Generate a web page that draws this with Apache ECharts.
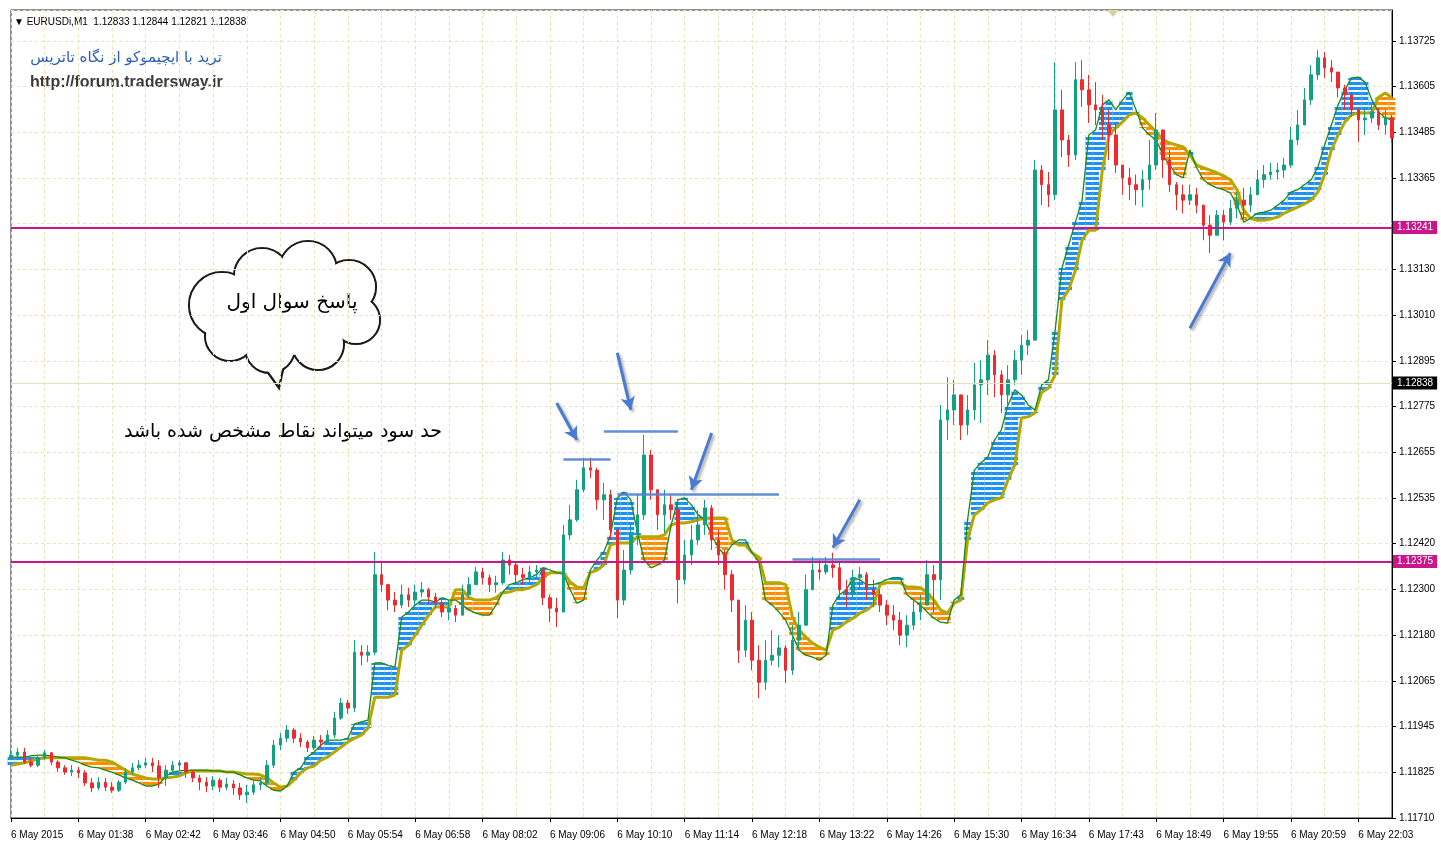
<!DOCTYPE html>
<html>
<head>
<meta charset="utf-8">
<title>EURUSDi,M1</title>
<script src="https://cdn.jsdelivr.net/npm/echarts@6/dist/echarts.min.js"></script>
<style>
html, body { margin: 0; padding: 0; background: #fff; }
#chart { width: 1441px; height: 846px; }
</style>
</head>
<body>
<div id="chart"></div>
<script>
// axis tick labels
const xTickLabels = ['6 May 2015', '6 May 01:38', '6 May 02:42', '6 May 03:46', '6 May 04:50', '6 May 05:54',
  '6 May 06:58', '6 May 08:02', '6 May 09:06', '6 May 10:10', '6 May 11:14', '6 May 12:18', '6 May 13:22',
  '6 May 14:26', '6 May 15:30', '6 May 16:34', '6 May 17:43', '6 May 18:49', '6 May 19:55', '6 May 20:59', '6 May 22:03'];
const yTickLabels = ['1.11710', '1.11825', '1.11945', '1.12065', '1.12180', '1.12300', '1.12420', '1.12535', '1.12655',
  '1.12775', '1.12895', '1.13010', '1.13130', '1.13250', '1.13365', '1.13485', '1.13605', '1.13725'];
const yMax = 1.13805;

// candles (open of each bar = close of the previous one)
const firstOpen = 1.11868;
const closes = [
  1.11873, 1.11881, 1.11855, 1.11847, 1.11866, 1.11879, 1.11855, 1.11840, 1.11829, 1.11834,
  1.11827, 1.11801, 1.11788, 1.11803, 1.11790, 1.11782, 1.11803, 1.11829, 1.11840, 1.11847,
  1.11853, 1.11845, 1.11814, 1.11834, 1.11847, 1.11853, 1.11829, 1.11814, 1.11803, 1.11793,
  1.11808, 1.11790, 1.11798, 1.11788, 1.11770, 1.11777, 1.11796, 1.11801, 1.11847, 1.11899,
  1.11917, 1.11938, 1.11917, 1.11907, 1.11892, 1.11912, 1.11907, 1.11925, 1.11969, 1.12008,
  1.11995, 1.12140, 1.12132, 1.12140, 1.12341, 1.12315, 1.12275, 1.12262, 1.12289, 1.12275,
  1.12296, 1.12302, 1.12283, 1.12267, 1.12244, 1.12254, 1.12236, 1.12289, 1.12315, 1.12348,
  1.12333, 1.12315, 1.12320, 1.12379, 1.12366, 1.12341, 1.12333, 1.12348, 1.12353, 1.12281,
  1.12254, 1.12244, 1.12444, 1.12483, 1.12561, 1.12618, 1.12612, 1.12535, 1.12548, 1.12457,
  1.12275, 1.12353, 1.12444, 1.12496, 1.12651, 1.12561, 1.12496, 1.12522, 1.12509, 1.12328,
  1.12392, 1.12431, 1.12470, 1.12514, 1.12431, 1.12392, 1.12341, 1.12275, 1.12145, 1.12223,
  1.12119, 1.12062, 1.12119, 1.12132, 1.12151, 1.12093, 1.12171, 1.12210, 1.12302, 1.12353,
  1.12348, 1.12366, 1.12359, 1.12302, 1.12289, 1.12333, 1.12341, 1.12302, 1.12289, 1.12262,
  1.12236, 1.12223, 1.12184, 1.12210, 1.12244, 1.12262, 1.12341, 1.12328, 1.12742, 1.12768,
  1.12807, 1.12729, 1.12768, 1.12833, 1.12846, 1.12910, 1.12859, 1.12807, 1.12846, 1.12897,
  1.12936, 1.12949, 1.13390, 1.13352, 1.13326, 1.13546, 1.13468, 1.13429, 1.13624, 1.13598,
  1.13559, 1.13546, 1.13507, 1.13481, 1.13403, 1.13370, 1.13352, 1.13339, 1.13365, 1.13403,
  1.13494, 1.13416, 1.13352, 1.13326, 1.13312, 1.13326, 1.13299, 1.13247, 1.13221, 1.13273,
  1.13255, 1.13291, 1.13312, 1.13299, 1.13326, 1.13365, 1.13378, 1.13385, 1.13390, 1.13403,
  1.13468, 1.13507, 1.13572, 1.13637, 1.13681, 1.13655, 1.13644, 1.13603, 1.13585, 1.13546,
  1.13520, 1.13525, 1.13541, 1.13507, 1.13525, 1.13473];
const highs = [
  1.11886, 1.11892, 1.11892, 1.11866, 1.11873, 1.11886, 1.11881, 1.11860, 1.11847, 1.11847,
  1.11842, 1.11834, 1.11814, 1.11816, 1.11814, 1.11803, 1.11808, 1.11840, 1.11853, 1.11860,
  1.11866, 1.11866, 1.11860, 1.11847, 1.11858, 1.11860, 1.11855, 1.11834, 1.11822, 1.11816,
  1.11819, 1.11814, 1.11814, 1.11808, 1.11801, 1.11796, 1.11808, 1.11814, 1.11860, 1.11912,
  1.11930, 1.11951, 1.11943, 1.11930, 1.11912, 1.11923, 1.11925, 1.11938, 1.11985, 1.12021,
  1.12016, 1.12171, 1.12158, 1.12158, 1.12400, 1.12372, 1.12307, 1.12296, 1.12315, 1.12307,
  1.12315, 1.12322, 1.12307, 1.12294, 1.12275, 1.12275, 1.12262, 1.12315, 1.12335, 1.12361,
  1.12359, 1.12341, 1.12338, 1.12400, 1.12392, 1.12372, 1.12359, 1.12364, 1.12366, 1.12353,
  1.12289, 1.12281, 1.12470, 1.12522, 1.12587, 1.12644, 1.12644, 1.12618, 1.12579, 1.12561,
  1.12462, 1.12405, 1.12470, 1.12548, 1.12703, 1.12664, 1.12561, 1.12561, 1.12548, 1.12535,
  1.12431, 1.12470, 1.12509, 1.12535, 1.12522, 1.12457, 1.12405, 1.12353, 1.12275, 1.12262,
  1.12244, 1.12158, 1.12171, 1.12197, 1.12184, 1.12158, 1.12210, 1.12244, 1.12341, 1.12387,
  1.12379, 1.12387, 1.12398, 1.12374, 1.12328, 1.12353, 1.12361, 1.12348, 1.12328, 1.12302,
  1.12275, 1.12262, 1.12244, 1.12236, 1.12275, 1.12289, 1.12379, 1.12366, 1.12781, 1.12853,
  1.12846, 1.12794, 1.12807, 1.12890, 1.12897, 1.12949, 1.12923, 1.12871, 1.12884, 1.12923,
  1.12962, 1.12975, 1.13416, 1.13403, 1.13385, 1.13670, 1.13598, 1.13481, 1.13670, 1.13675,
  1.13637, 1.13618, 1.13585, 1.13546, 1.13507, 1.13403, 1.13396, 1.13378, 1.13390, 1.13468,
  1.13538, 1.13494, 1.13442, 1.13359, 1.13352, 1.13352, 1.13344, 1.13299, 1.13273, 1.13286,
  1.13286, 1.13312, 1.13333, 1.13344, 1.13346, 1.13390, 1.13403, 1.13409, 1.13409, 1.13422,
  1.13502, 1.13546, 1.13603, 1.13662, 1.13701, 1.13696, 1.13675, 1.13644, 1.13611, 1.13592,
  1.13551, 1.13551, 1.13559, 1.13551, 1.13546, 1.13533];
const lows = [
  1.11860, 1.11868, 1.11850, 1.11842, 1.11842, 1.11860, 1.11847, 1.11829, 1.11822, 1.11819,
  1.11814, 1.11793, 1.11777, 1.11782, 1.11780, 1.11775, 1.11777, 1.11798, 1.11822, 1.11834,
  1.11840, 1.11829, 1.11788, 1.11793, 1.11822, 1.11834, 1.11814, 1.11803, 1.11782, 1.11777,
  1.11782, 1.11777, 1.11782, 1.11770, 1.11757, 1.11749, 1.11770, 1.11782, 1.11790, 1.11840,
  1.11886, 1.11907, 1.11904, 1.11894, 1.11881, 1.11886, 1.11892, 1.11902, 1.11917, 1.11964,
  1.11980, 1.11985, 1.12106, 1.12114, 1.12132, 1.12296, 1.12249, 1.12244, 1.12254, 1.12257,
  1.12262, 1.12283, 1.12267, 1.12254, 1.12231, 1.12223, 1.12218, 1.12236, 1.12281, 1.12315,
  1.12315, 1.12296, 1.12294, 1.12315, 1.12341, 1.12322, 1.12315, 1.12322, 1.12333, 1.12262,
  1.12218, 1.12205, 1.12379, 1.12431, 1.12478, 1.12555, 1.12592, 1.12509, 1.12483, 1.12431,
  1.12228, 1.12262, 1.12341, 1.12418, 1.12483, 1.12535, 1.12457, 1.12449, 1.12483, 1.12267,
  1.12315, 1.12366, 1.12418, 1.12444, 1.12405, 1.12366, 1.12302, 1.12244, 1.12112, 1.12127,
  1.12093, 1.12021, 1.12042, 1.12106, 1.12101, 1.12060, 1.12081, 1.12145, 1.12223, 1.12302,
  1.12328, 1.12341, 1.12333, 1.12275, 1.12257, 1.12281, 1.12302, 1.12275, 1.12257, 1.12244,
  1.12210, 1.12197, 1.12158, 1.12153, 1.12197, 1.12223, 1.12262, 1.12244, 1.12275, 1.12690,
  1.12729, 1.12690, 1.12703, 1.12742, 1.12734, 1.12807, 1.12801, 1.12760, 1.12781, 1.12833,
  1.12859, 1.12910, 1.13112, 1.13299, 1.13294, 1.13312, 1.13424, 1.13398, 1.13416, 1.13554,
  1.13512, 1.13507, 1.13468, 1.13416, 1.13383, 1.13326, 1.13312, 1.13299, 1.13294, 1.13339,
  1.13390, 1.13370, 1.13333, 1.13286, 1.13278, 1.13299, 1.13278, 1.13208, 1.13175, 1.13221,
  1.13208, 1.13247, 1.13265, 1.13265, 1.13281, 1.13333, 1.13344, 1.13365, 1.13365, 1.13370,
  1.13396, 1.13455, 1.13512, 1.13559, 1.13624, 1.13629, 1.13618, 1.13579, 1.13546, 1.13528,
  1.13463, 1.13481, 1.13512, 1.13494, 1.13481, 1.13460];

// ichimoku cloud edges
const spanA = [
  1.11868, 1.11868, 1.11868, 1.11871, 1.11873, 1.11873, 1.11871, 1.11868, 1.11866, 1.11860,
  1.11855, 1.11847, 1.11842, 1.11840, 1.11834, 1.11829, 1.11822, 1.11814, 1.11808, 1.11801,
  1.11793, 1.11793, 1.11798, 1.11819, 1.11829, 1.11832, 1.11834, 1.11834, 1.11834, 1.11834,
  1.11832, 1.11832, 1.11829, 1.11829, 1.11822, 1.11814, 1.11808, 1.11806, 1.11793, 1.11782,
  1.11780, 1.11793, 1.11829, 1.11840, 1.11868, 1.11881, 1.11899, 1.11912, 1.11912, 1.11912,
  1.11917, 1.11954, 1.11959, 1.11964, 1.12112, 1.12112, 1.12106, 1.12101, 1.12231, 1.12244,
  1.12262, 1.12275, 1.12275, 1.12270, 1.12281, 1.12275, 1.12275, 1.12262, 1.12249, 1.12241,
  1.12236, 1.12236, 1.12262, 1.12296, 1.12315, 1.12320, 1.12328, 1.12333, 1.12341, 1.12359,
  1.12353, 1.12346, 1.12343, 1.12302, 1.12267, 1.12275, 1.12353, 1.12379, 1.12400, 1.12444,
  1.12540, 1.12555, 1.12535, 1.12449, 1.12379, 1.12359, 1.12366, 1.12379, 1.12470, 1.12535,
  1.12540, 1.12522, 1.12496, 1.12483, 1.12444, 1.12410, 1.12392, 1.12418, 1.12431, 1.12431,
  1.12398, 1.12374, 1.12275, 1.12262, 1.12244, 1.12223, 1.12184, 1.12145, 1.12132, 1.12127,
  1.12119, 1.12132, 1.12262, 1.12289, 1.12302, 1.12333, 1.12328, 1.12315, 1.12315, 1.12320,
  1.12328, 1.12333, 1.12333, 1.12289, 1.12275, 1.12262, 1.12244, 1.12228, 1.12218, 1.12215,
  1.12275, 1.12289, 1.12483, 1.12612, 1.12631, 1.12646, 1.12690, 1.12716, 1.12781, 1.12820,
  1.12807, 1.12781, 1.12768, 1.12833, 1.12846, 1.12975, 1.13136, 1.13195, 1.13255, 1.13312,
  1.13481, 1.13494, 1.13559, 1.13572, 1.13546, 1.13572, 1.13592, 1.13546, 1.13499, 1.13481,
  1.13468, 1.13429, 1.13403, 1.13378, 1.13370, 1.13442, 1.13396, 1.13365, 1.13352, 1.13344,
  1.13339, 1.13331, 1.13299, 1.13255, 1.13265, 1.13278, 1.13281, 1.13286, 1.13299, 1.13312,
  1.13333, 1.13339, 1.13352, 1.13365, 1.13398, 1.13455, 1.13507, 1.13559, 1.13598, 1.13629,
  1.13631, 1.13618, 1.13572, 1.13541, 1.13525, 1.13520];
const spanB = [
  1.11847, 1.11850, 1.11853, 1.11858, 1.11863, 1.11866, 1.11866, 1.11866, 1.11866, 1.11866,
  1.11866, 1.11866, 1.11863, 1.11860, 1.11860, 1.11855, 1.11845, 1.11834, 1.11824, 1.11819,
  1.11814, 1.11811, 1.11811, 1.11814, 1.11816, 1.11819, 1.11827, 1.11832, 1.11832, 1.11832,
  1.11832, 1.11832, 1.11829, 1.11829, 1.11827, 1.11824, 1.11824, 1.11822, 1.11814, 1.11801,
  1.11790, 1.11793, 1.11808, 1.11827, 1.11840, 1.11845, 1.11860, 1.11868, 1.11881, 1.11894,
  1.11907, 1.11917, 1.11925, 1.11943, 1.12023, 1.12023, 1.12023, 1.12029, 1.12145, 1.12158,
  1.12184, 1.12210, 1.12236, 1.12257, 1.12257, 1.12257, 1.12302, 1.12302, 1.12281, 1.12275,
  1.12275, 1.12275, 1.12281, 1.12294, 1.12296, 1.12302, 1.12302, 1.12307, 1.12315, 1.12333,
  1.12346, 1.12346, 1.12346, 1.12322, 1.12309, 1.12307, 1.12346, 1.12353, 1.12366, 1.12418,
  1.12423, 1.12423, 1.12423, 1.12439, 1.12439, 1.12439, 1.12439, 1.12444, 1.12470, 1.12475,
  1.12475, 1.12478, 1.12483, 1.12488, 1.12488, 1.12488, 1.12488, 1.12431, 1.12418, 1.12418,
  1.12398, 1.12387, 1.12320, 1.12320, 1.12320, 1.12315, 1.12231, 1.12197, 1.12179, 1.12163,
  1.12153, 1.12145, 1.12197, 1.12205, 1.12218, 1.12228, 1.12241, 1.12249, 1.12262, 1.12315,
  1.12320, 1.12320, 1.12320, 1.12309, 1.12309, 1.12307, 1.12294, 1.12275, 1.12249, 1.12241,
  1.12267, 1.12275, 1.12431, 1.12496, 1.12509, 1.12527, 1.12535, 1.12540, 1.12587, 1.12625,
  1.12747, 1.12750, 1.12760, 1.12814, 1.12825, 1.12859, 1.13053, 1.13079, 1.13130, 1.13208,
  1.13234, 1.13234, 1.13390, 1.13481, 1.13499, 1.13515, 1.13533, 1.13538, 1.13525, 1.13507,
  1.13489, 1.13468, 1.13460, 1.13455, 1.13450, 1.13429, 1.13403, 1.13396, 1.13390, 1.13383,
  1.13375, 1.13365, 1.13339, 1.13286, 1.13265, 1.13260, 1.13260, 1.13263, 1.13268, 1.13278,
  1.13286, 1.13294, 1.13302, 1.13312, 1.13333, 1.13378, 1.13442, 1.13481, 1.13515, 1.13533,
  1.13538, 1.13538, 1.13538, 1.13579, 1.13590, 1.13577];

// drawn objects: levels, bid line, short tops (bar from, bar to, price), arrows (bar, price -> bar, price)
const levels = [1.13241, 1.12375];
const bidPrice = 1.12838;
const topLines = [[82, 89, 1.12641], [88, 99, 1.12714], [90, 114, 1.12550], [116, 129, 1.12382]];
const arrows = [
  [81, 1.12786, 83.5, 1.12690],
  [90.4, 1.12916, 91.7, 1.12768],
  [104, 1.12708, 100.8, 1.12561],
  [126, 1.12535, 121.6, 1.12411],
  [175, 1.12980, 181.4, 1.13175]
];

const chart = echarts.init(document.getElementById('chart'));

const bars = closes.map((c, i) => String(i));
const lastBar = bars.length - 1;
const candles = closes.map((c, i) => {
  const o = i === 0 ? firstOpen : closes[i - 1];
  return [o, c, Math.min(lows[i], o, c), Math.max(highs[i], o, c)];
});
const kumoBase = spanA.map((a, i) => Math.min(a, spanB[i]));
const kumoUp = spanA.map((a, i) => (a > spanB[i] ? a - spanB[i] : 0));
const kumoDown = spanA.map((a, i) => (spanB[i] > a ? spanB[i] - a : 0));

const yMin = +yTickLabels[0];
const yStep = (yTickLabels[yTickLabels.length - 1] - yMin) / (yTickLabels.length - 1);
const boxed = levels.concat([bidPrice]);
const axisFont = 'Liberation Sans';
const faFont = 'DejaVu Sans';
const magenta = '#c9168a';
const markBlue = '#5282d2';

const stripes = { symbol: 'rect', symbolSize: 1, color: 'rgba(255,255,255,0.95)', dashArrayX: [1, 0], dashArrayY: [2, 3], rotation: 0 };

function priceLine(v, color, width, boxColor) {
  const label = { show: true, position: 'end', distance: 1, formatter: v.toFixed(5), color: '#fff', backgroundColor: boxColor,
    padding: [2, 4, 1, 4], fontSize: 10, fontFamily: axisFont };
  return [
    { coord: [0, v], symbol: 'none', lineStyle: { color: color, width: width, type: 'solid' }, label: label },
    { coord: [lastBar, v], symbol: 'none', label: label }
  ];
}

const markData = [];
markData.push(priceLine(bidPrice, '#e6e1b8', 1, '#000'));
levels.forEach(v => markData.push(priceLine(v, magenta, 2, magenta)));
topLines.forEach(t => markData.push([
  { coord: [t[0], t[2]], symbol: 'none', lineStyle: { color: markBlue, width: 2.5, type: 'solid', opacity: 0.9 } },
  { coord: [t[1], t[2]], symbol: 'none' }
]));
arrows.forEach(a => markData.push([
  { coord: [a[0], a[1]], symbol: 'none',
    lineStyle: { color: '#4a7bd0', width: 3, type: 'solid', shadowBlur: 3, shadowColor: 'rgba(0,0,0,0.35)', shadowOffsetX: 2, shadowOffsetY: 2 } },
  { coord: [a[2], a[3]], symbol: 'arrow', symbolSize: [11, 13] }
]));

// speech bubble built from overlapping circles
const bubble = [[222, 305, 33], [262, 276, 28], [308, 270, 29], [349, 287, 27], [356, 320, 24], [318, 344, 26], [270, 348, 25], [230, 336, 25]];
const tail = [[256, 356], [279, 388], [286, 356]];
const bubbleEls = [];
bubble.forEach(c => bubbleEls.push({ type: 'circle', shape: { cx: c[0], cy: c[1], r: c[2] },
  style: { fill: '#fff', stroke: '#1a1a1a', lineWidth: 2.2 } }));
bubbleEls.push({ type: 'polygon', shape: { points: tail }, style: { fill: '#fff', stroke: '#1a1a1a', lineWidth: 2.2 } });
bubble.forEach(c => bubbleEls.push({ type: 'circle', shape: { cx: c[0], cy: c[1], r: c[2] - 1.1 }, style: { fill: '#fff' } }));
bubbleEls.push({ type: 'circle', shape: { cx: 290, cy: 307, r: 48 }, style: { fill: '#fff' } });
bubbleEls.push({ type: 'polygon', shape: { points: [[259, 350], [278, 384], [283, 350]] }, style: { fill: '#fff' } });
bubbleEls.push({ type: 'text', x: 292, y: 303, style: { text: 'پاسخ سوال اول', fill: '#000', font: '20px ' + faFont,
  textAlign: 'center', textVerticalAlign: 'middle', verticalAlign: 'middle' } });

chart.setOption({
  animation: false,
  backgroundColor: '#fff',
  grid: { left: 11, right: 49, top: 10, bottom: 28, show: true, borderColor: '#222', borderWidth: 1, backgroundColor: '#fff',
    containLabel: false, outerBoundsMode: 'none' },
  xAxis: {
    type: 'category',
    data: bars,
    boundaryGap: false,
    axisLine: { show: true, lineStyle: { color: '#000', width: 1 } },
    axisTick: { show: true, interval: 9, length: 4, lineStyle: { color: '#000' } },
    axisLabel: {
      interval: 9, align: 'left', margin: 12, fontSize: 10, fontFamily: axisFont, color: '#000',
      formatter: (v, idx) => xTickLabels[idx / 10] || ''
    },
    splitLine: { show: true, interval: 4, lineStyle: { color: '#e9e4b4', type: [3, 3], width: 1 } }
  },
  yAxis: {
    type: 'value',
    position: 'right',
    min: yMin,
    max: yMax,
    interval: yStep,
    scale: true,
    axisLine: { show: true, lineStyle: { color: '#000', width: 1 } },
    axisTick: { show: true, length: 4, lineStyle: { color: '#000' } },
    axisLabel: {
      margin: 7, fontSize: 10, fontFamily: axisFont, color: '#000', showMaxLabel: false,
      formatter: v => {
        const k = Math.round((v - yMin) / yStep);
        if (Math.abs(v - yMin - k * yStep) > yStep * 0.05 || !yTickLabels[k]) return '';
        // like the terminal, a tick label under a price box is not drawn
        if (boxed.some(b => Math.abs(b - v) < yStep * 0.2)) return '';
        return yTickLabels[k];
      }
    },
    splitLine: { show: true, lineStyle: { color: '#e9e4b4', type: [3, 3], width: 1 } }
  },
  series: [
    { name: 'kumo base', type: 'bar', stack: 'kumo', data: kumoBase, barWidth: '100%', silent: true, clip: true,
      itemStyle: { color: 'rgba(0,0,0,0)' }, z: 1 },
    { name: 'kumo up', type: 'bar', stack: 'kumo', data: kumoUp, barWidth: '100%', silent: true, clip: true,
      itemStyle: { color: '#1e8ff5', decal: stripes }, z: 1 },
    { name: 'kumo down', type: 'bar', stack: 'kumo', data: kumoDown, barWidth: '100%', silent: true, clip: true,
      itemStyle: { color: '#ff8c00', decal: stripes }, z: 1 },
    { name: 'Senkou B', type: 'line', data: spanB, symbol: 'none', silent: true,
      lineStyle: { color: '#b4a800', width: 3 }, z: 3 },
    { name: 'Senkou A', type: 'line', data: spanA, symbol: 'none', silent: true,
      lineStyle: { color: '#168a1c', width: 1.3 }, z: 3 },
    {
      name: 'EURUSDi', type: 'candlestick', data: candles, barWidth: 3, z: 4,
      itemStyle: { color: '#12a083', color0: '#ee2a2e', borderColor: '#12a083', borderColor0: '#ee2a2e', borderWidth: 1 },
      markLine: { silent: true, symbol: ['none', 'none'], label: { show: false }, data: markData, z: 6 }
    }
  ],
  graphic: [
    { type: 'text', x: 14, y: 22, style: { text: '▼ EURUSDi,M1  1.12833 1.12844 1.12821 1.12838', fill: '#000',
      font: '10px ' + axisFont, textVerticalAlign: 'middle', verticalAlign: 'middle' } },
    { type: 'text', x: 222, y: 58, style: { text: 'ترید با ایچیموکو از نگاه تاتریس', fill: '#2c5fb5',
      font: '15px ' + faFont, textAlign: 'right', textVerticalAlign: 'middle', verticalAlign: 'middle' } },
    { type: 'text', x: 30, y: 83, style: { text: 'http://forum.tradersway.ir', fill: '#3a3a3a',
      font: 'bold 16px ' + axisFont, textVerticalAlign: 'middle', verticalAlign: 'middle' } },
    { type: 'text', x: 283, y: 432, style: { text: 'حد سود میتواند نقاط مشخص شده باشد', fill: '#000',
      font: '19px ' + faFont, textAlign: 'center', textVerticalAlign: 'middle', verticalAlign: 'middle' } },
    { type: 'polygon', shape: { points: [[1107, 10], [1119, 10], [1113, 17]] }, style: { fill: '#d8cfa0' } },
    { type: 'group', children: bubbleEls }
  ]
});
</script>
</body>
</html>
